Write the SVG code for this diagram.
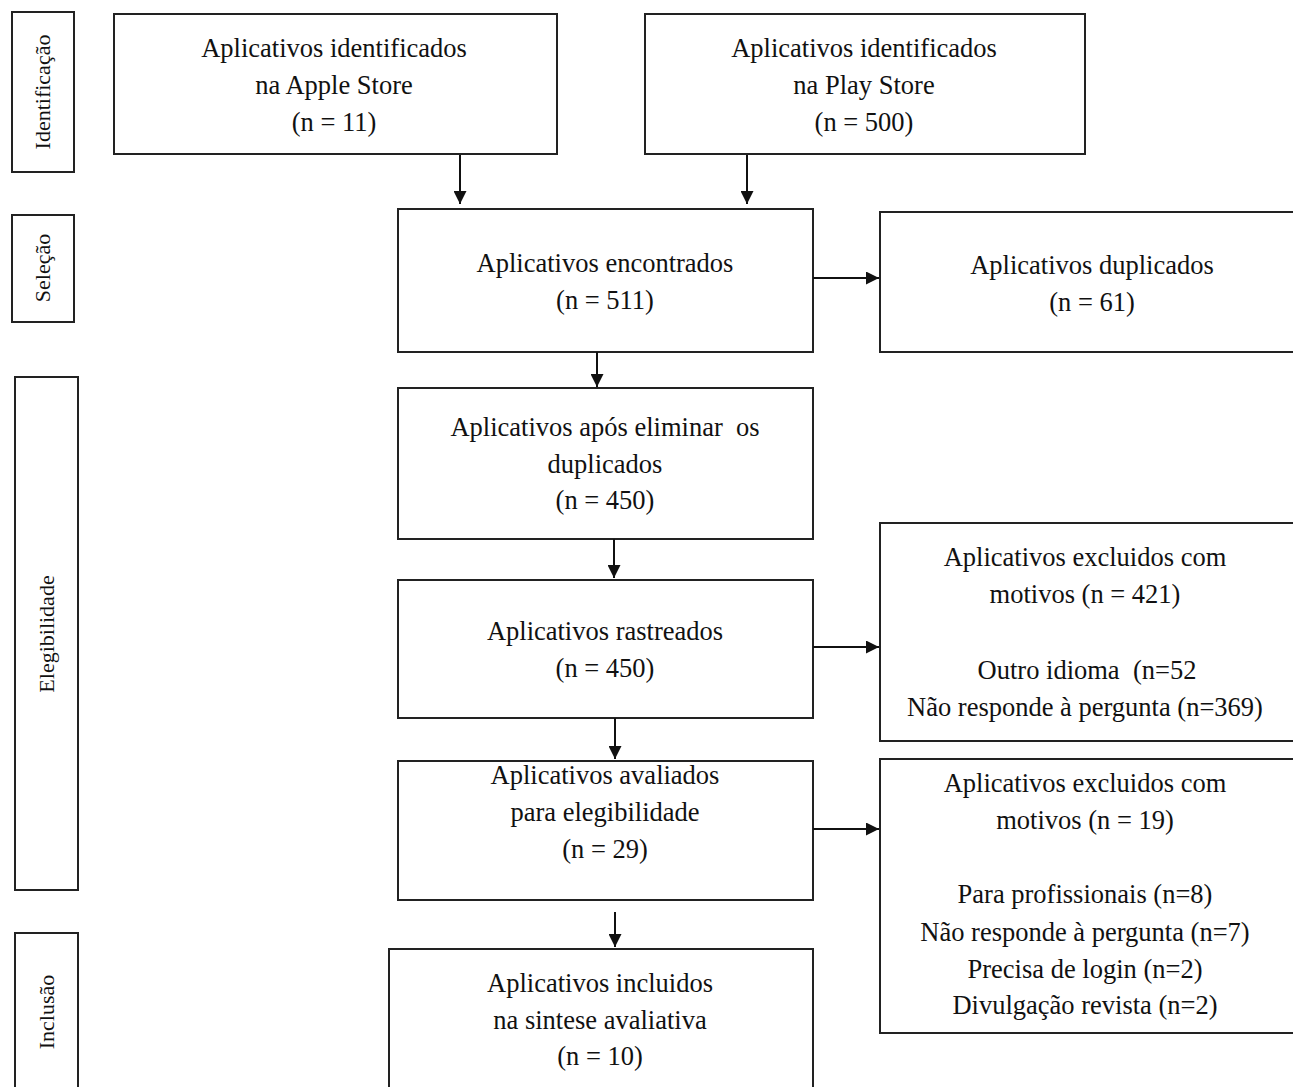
<svg xmlns="http://www.w3.org/2000/svg" width="1293" height="1087" viewBox="0 0 1293 1087">
<defs>
<marker id="ah" viewBox="0 0 10 10" refX="10" refY="5" markerWidth="14" markerHeight="13" markerUnits="userSpaceOnUse" orient="auto">
<path d="M0,0 L10,5 L0,10 Z" fill="#111"/>
</marker>
<style>
.box{fill:#fff;stroke:#222;stroke-width:2}
.t{font-family:"Liberation Serif","Times New Roman",serif;font-size:26.5px;fill:#111;text-anchor:middle}
.s{font-family:"Liberation Serif","Times New Roman",serif;font-size:22px;fill:#111;text-anchor:middle}
.c{stroke:#111;stroke-width:2;fill:none;marker-end:url(#ah)}
</style>
</defs>
<rect width="1293" height="1087" fill="#fff"/>
<g id="stage-identificacao"><rect class="box" x="12" y="12" width="62" height="160"/><text class="s" transform="translate(50,92) rotate(-90)">Identificação</text></g>
<g id="stage-selecao"><rect class="box" x="12" y="215" width="62" height="107"/><text class="s" transform="translate(50,268) rotate(-90)">Seleção</text></g>
<g id="stage-elegibilidade"><rect class="box" x="15" y="377" width="63" height="513"/><text class="s" transform="translate(54,634) rotate(-90)">Elegibilidade</text></g>
<g id="stage-inclusao"><rect class="box" x="15" y="933" width="63" height="160"/><text class="s" transform="translate(54,1012) rotate(-90)">Inclusão</text></g>

<g id="apple"><rect class="box" x="114" y="14" width="443" height="140"/><text class="t" x="334" y="57">Aplicativos identificados</text><text class="t" x="334" y="94">na Apple Store</text><text class="t" x="334" y="131">(n = 11)</text></g>
<g id="play"><rect class="box" x="645" y="14" width="440" height="140"/><text class="t" x="864" y="57">Aplicativos identificados</text><text class="t" x="864" y="94">na Play Store</text><text class="t" x="864" y="131">(n = 500)</text></g>
<g id="encontrados"><rect class="box" x="398" y="209" width="415" height="143"/><text class="t" x="605" y="272">Aplicativos encontrados</text><text class="t" x="605" y="309">(n = 511)</text></g>
<g id="duplicados"><rect class="box" x="880" y="212" width="415" height="140"/><text class="t" x="1092" y="274">Aplicativos duplicados</text><text class="t" x="1092" y="311">(n = 61)</text></g>
<g id="apos"><rect class="box" x="398" y="388" width="415" height="151"/><text class="t" x="605" y="436" xml:space="preserve">Aplicativos após eliminar  os</text><text class="t" x="605" y="473">duplicados</text><text class="t" x="605" y="509">(n = 450)</text></g>
<g id="rastreados"><rect class="box" x="398" y="580" width="415" height="138"/><text class="t" x="605" y="640">Aplicativos rastreados</text><text class="t" x="605" y="677">(n = 450)</text></g>
<g id="excluidos421"><rect class="box" x="880" y="523" width="415" height="218"/><text class="t" x="1085" y="566">Aplicativos excluidos com</text><text class="t" x="1085" y="603">motivos (n = 421)</text><text class="t" x="1087" y="679" xml:space="preserve">Outro idioma  (n=52</text><text class="t" x="1085" y="716">Não responde à pergunta (n=369)</text></g>
<g id="avaliados"><rect class="box" x="398" y="761" width="415" height="139"/><text class="t" x="605" y="784">Aplicativos avaliados</text><text class="t" x="605" y="821">para elegibilidade</text><text class="t" x="605" y="858">(n = 29)</text></g>
<g id="excluidos19"><rect class="box" x="880" y="759" width="415" height="274"/><text class="t" x="1085" y="792">Aplicativos excluidos com</text><text class="t" x="1085" y="829">motivos (n = 19)</text><text class="t" x="1085" y="903">Para profissionais (n=8)</text><text class="t" x="1085" y="941">Não responde à pergunta (n=7)</text><text class="t" x="1085" y="978">Precisa de login (n=2)</text><text class="t" x="1085" y="1014">Divulgação revista (n=2)</text></g>
<g id="incluidos"><rect class="box" x="389" y="949" width="424" height="150"/><text class="t" x="600" y="992">Aplicativos incluidos</text><text class="t" x="600" y="1029">na sintese avaliativa</text><text class="t" x="600" y="1065">(n = 10)</text></g>

<g id="connectors">
<line class="c" x1="460" y1="155" x2="460" y2="204"/>
<line class="c" x1="747" y1="155" x2="747" y2="204"/>
<line class="c" x1="813" y1="278" x2="879" y2="278"/>
<line class="c" x1="597" y1="352" x2="597" y2="387"/>
<line class="c" x1="614" y1="539" x2="614" y2="578"/>
<line class="c" x1="813" y1="647" x2="879" y2="647"/>
<line class="c" x1="615" y1="718" x2="615" y2="759"/>
<line class="c" x1="813" y1="829" x2="879" y2="829"/>
<line class="c" x1="615" y1="912" x2="615" y2="947"/>
</g>
</svg>
